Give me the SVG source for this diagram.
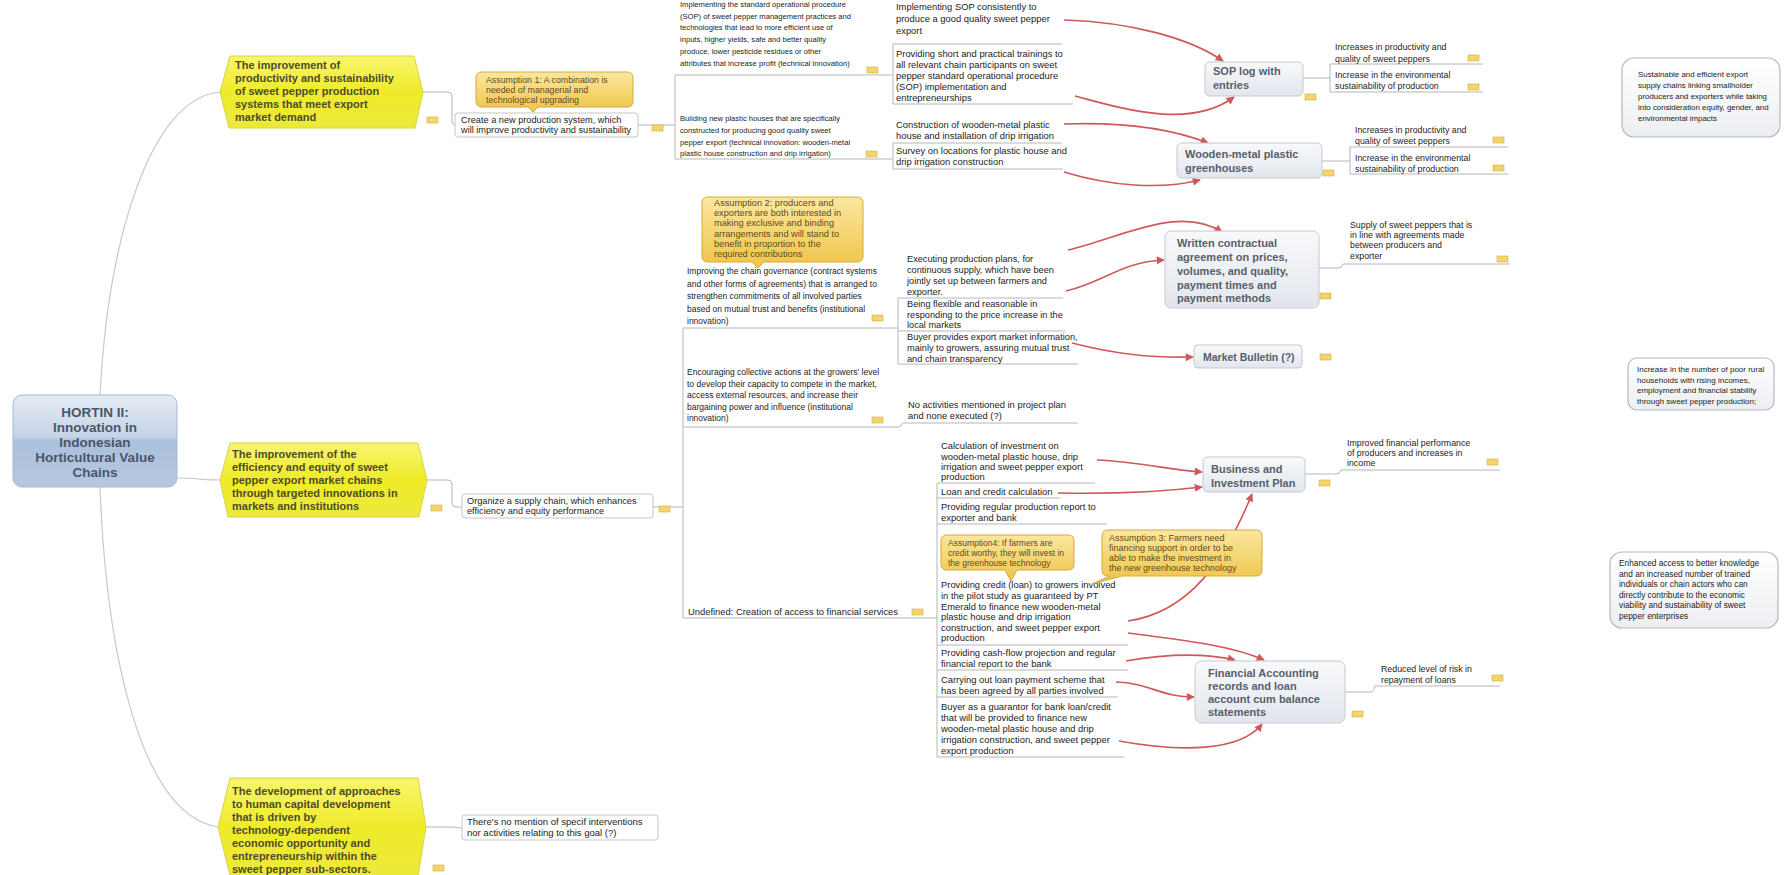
<svg xmlns="http://www.w3.org/2000/svg" width="1787" height="875" viewBox="0 0 1787 875">
<defs>
<linearGradient id="gy" x1="0" y1="0" x2="0" y2="1"><stop offset="0" stop-color="#f8f56e"/><stop offset="0.5" stop-color="#efeb2a"/><stop offset="1" stop-color="#ede93c"/></linearGradient>
<linearGradient id="gh" x1="0" y1="0" x2="0" y2="1"><stop offset="0" stop-color="#e4ebf5"/><stop offset="0.45" stop-color="#c6d4e7"/><stop offset="0.5" stop-color="#abc0dc"/><stop offset="1" stop-color="#b6c8e0"/></linearGradient>
<linearGradient id="gb" x1="0" y1="0" x2="0" y2="1"><stop offset="0" stop-color="#f8f9fb"/><stop offset="1" stop-color="#e2e6ec"/></linearGradient>
<linearGradient id="ga" x1="0" y1="0" x2="0" y2="1"><stop offset="0" stop-color="#fbe7a0"/><stop offset="1" stop-color="#efc446"/></linearGradient>
<linearGradient id="gr" x1="0" y1="0" x2="0" y2="1"><stop offset="0" stop-color="#ffffff"/><stop offset="1" stop-color="#eceef1"/></linearGradient>
<marker id="ah" viewBox="0 0 10 10" refX="9" refY="5" markerWidth="9" markerHeight="8" markerUnits="userSpaceOnUse" orient="auto"><path d="M0,0 L10,5 L0,10 Z" fill="#cf5858"/></marker>
</defs>
<style>
.c{fill:none;stroke:#b6b6b6;stroke-width:1}
.cr{fill:none;stroke:#c8c8c8;stroke-width:1.2}
.a{fill:none;stroke:#cf5858;stroke-width:1.6;marker-end:url(#ah)}
text{font-family:"Liberation Sans",Arial,sans-serif;fill:#1c1c1c}
.goal{fill:url(#gy);stroke:#d9d24a;stroke-width:1}
.gt{font-size:11px;font-weight:bold;fill:#4d4d28}
.box{fill:url(#gb);stroke:#c4c9d1;stroke-width:1}
.bt{font-size:11px;font-weight:bold;fill:#56606c}
.ass{fill:url(#ga);stroke:#d6a83c;stroke-width:1}
.at{fill:#5c4c1c}
.wb{fill:#ffffff;stroke:#c6c6c6;stroke-width:1}
.rb{fill:url(#gr);stroke:#b4b9c1;stroke-width:1.2}
.n{fill:#f3d56b;stroke:#cfae45;stroke-width:0.6}
.f76{font-size:7.6px}.f79{font-size:7.9px}.f8{font-size:8px}.f83{font-size:8.3px}.f85{font-size:8.5px}.f88{font-size:8.8px}.f9{font-size:9px}.f92{font-size:9.2px}.f94{font-size:9.4px}.f95{font-size:9.5px}
</style>
<rect width="1787" height="875" fill="#ffffff"/>

<g id="connectors">
<path class="cr" d="M100,395 C108,240 150,98 220,92"/>
<path class="cr" d="M177,478 C195,478 205,480 220,480"/>
<path class="cr" d="M100,487 C106,650 140,815 218,827"/>
<path class="c" d="M423,92 H448 Q452,92 452,96 V121 Q452,125 456,125"/>
<path class="c" d="M638,125 H675 M675,75 V159 M675,75 H892 M675,159 H892"/>
<path class="c" d="M893,44 V104 M893,44 H1062 M893,104 H1073"/>
<path class="c" d="M893,143 V169 M893,143 H1062 M893,169 H1063"/>
<path class="c" d="M1303,78 H1330 M1330,64 V92 M1330,64 H1483 M1330,92 H1483"/>
<path class="c" d="M1322,161 H1350 M1350,147 V174 M1350,147 H1508 M1350,174 H1508"/>
<path class="c" d="M427,480 H448 Q452,480 452,484 V503 Q452,507 456,507 H462"/>
<path class="c" d="M653,507 H683 M683,328 V618"/>
<path class="c" d="M683,328 H898 M898,298 V364 M898,298 H1063 M898,331 H1066 M898,364 H1078"/>
<path class="c" d="M683,427 H898 Q901,427 903,423 H1078"/>
<path class="c" d="M683,618 H937 M937,483 V757"/>
<path class="c" d="M937,483 H1095 M937,498 H1060 M937,524 H1107 M937,645 H1128 M937,670 H1128 M937,697 H1118 M937,757 H1124"/>
<path class="c" d="M1319,268 H1338 Q1342,268 1343,264 H1510"/>
<path class="c" d="M1305,474 H1336 Q1340,474 1341,470 H1500"/>
<path class="c" d="M1345,692 H1370 Q1374,692 1375,686 H1500"/>
<path class="c" d="M426,827 H452 Q457,827 460,828 H462"/>
<path class="a" d="M1064,20 C1130,22 1190,38 1223,61"/>
<path class="a" d="M1075,96 C1120,108 1190,130 1234,97"/>
<path class="a" d="M1064,124 C1120,122 1170,128 1208,143"/>
<path class="a" d="M1064,172 C1110,186 1160,190 1200,180"/>
<path class="a" d="M1068,250 C1125,236 1180,205 1222,232"/>
<path class="a" d="M1066,291 C1105,282 1120,262 1164,260"/>
<path class="a" d="M1072,343 C1115,354 1150,358 1193,357"/>
<path class="a" d="M1097,460 C1140,462 1170,470 1202,472"/>
<path class="a" d="M1058,493 C1110,494 1160,492 1202,487"/>
<path class="a" d="M1128,621 C1190,612 1225,560 1252,494"/>
<path class="a" d="M1128,633 C1180,640 1230,645 1264,660"/>
<path class="a" d="M1126,661 C1160,655 1200,652 1235,660"/>
<path class="a" d="M1116,682 C1150,683 1160,697 1194,697"/>
<path class="a" d="M1119,741 C1180,752 1240,752 1262,724"/>
</g>

<g id="root">
<rect x="13" y="395" width="164" height="92" rx="9" fill="url(#gh)" stroke="#a9b9cf"/>
<text text-anchor="middle" font-size="13.5" font-weight="bold" style="fill:#4a5668"><tspan x="95" y="417">HORTIN II:</tspan><tspan x="95" y="432">Innovation in</tspan><tspan x="95" y="447">Indonesian</tspan><tspan x="95" y="462">Horticultural Value</tspan><tspan x="95" y="477">Chains</tspan></text>
</g>

<g id="goal1">
<path class="goal" d="M230,56 H414 L423,92 L415,128 H229 L220,92 Z"/>
<text class="gt"><tspan x="235" y="69">The improvement of</tspan><tspan x="235" y="82">productivity and sustainability</tspan><tspan x="235" y="95">of sweet pepper production</tspan><tspan x="235" y="108">systems that meet export</tspan><tspan x="235" y="121">market demand</tspan></text>
<rect class="n" x="427" y="117" width="11" height="6"/>
</g>

<g id="goal2">
<path class="goal" d="M230,443 H418 L427,480 L419,517 H228 L220,480 Z"/>
<text class="gt"><tspan x="232" y="458">The improvement of the</tspan><tspan x="232" y="471">efficiency and equity of sweet</tspan><tspan x="232" y="484">pepper export market chains</tspan><tspan x="232" y="497">through targeted innovations in</tspan><tspan x="232" y="510">markets and institutions</tspan></text>
<rect class="n" x="431" y="505" width="11" height="6"/>
</g>

<g id="goal3">
<path class="goal" d="M230,778 H418 L426,827 L418,876 H230 L218,827 Z"/>
<text class="gt"><tspan x="232" y="795">The development of approaches</tspan><tspan x="232" y="808">to human capital development</tspan><tspan x="232" y="821">that is driven by</tspan><tspan x="232" y="834">technology-dependent</tspan><tspan x="232" y="847">economic opportunity and</tspan><tspan x="232" y="860">entrepreneurship within the</tspan><tspan x="232" y="873">sweet pepper sub-sectors.</tspan></text>
<rect class="n" x="433" y="865" width="11" height="6"/>
</g>

<g id="nomention">
<rect class="wb" x="462" y="815" width="196" height="25" rx="3"/>
<text class="f95"><tspan x="467" y="825">There's no mention of specif interventions</tspan><tspan x="467" y="835.5">nor activities relating to this goal (?)</tspan></text>
</g>

<g id="assumption1">
<path class="ass" d="M482,72 H627 Q633,72 633,78 V101 Q633,107 627,107 H538 L533,112 L528,107 H482 Q476,107 476,101 V78 Q476,72 482,72 Z"/>
<text class="at f88"><tspan x="486" y="83">Assumption 1: A combination is</tspan><tspan x="486" y="93">needed of managerial and</tspan><tspan x="486" y="103">technological upgrading</tspan></text>
</g>

<g id="create">
<rect class="wb" x="455" y="113" width="183" height="24" rx="3"/>
<text class="f92"><tspan x="461" y="122.5">Create a new production system, which</tspan><tspan x="461" y="133">will improve productivity and sustainability</tspan></text>
<rect class="n" x="652" y="125" width="11" height="6"/>
</g>

<g id="sop-standard">
<text class="f76"><tspan x="680" y="7">Implementing the standard operational procedure</tspan><tspan x="680" y="18.5">(SOP) of sweet pepper management practices and</tspan><tspan x="680" y="30">technologies that lead to more efficient use of</tspan><tspan x="680" y="42">inputs, higher yields, safe and better quality</tspan><tspan x="680" y="53.5">produce, lower pesticide residues or other</tspan><tspan x="680" y="66">attributes that increase profit (technical innovation)</tspan></text>
<rect class="n" x="867" y="67" width="11" height="6"/>
</g>

<g id="plastic-houses">
<text class="f76"><tspan x="680" y="121">Building new plastic houses that are specifically</tspan><tspan x="680" y="133">constructed for producing good quality sweet</tspan><tspan x="680" y="144.5">pepper export (technical innovation: wooden-metal</tspan><tspan x="680" y="156">plastic house construction and drip irrigation)</tspan></text>
<rect class="n" x="866" y="151" width="11" height="6"/>
</g>

<g id="act-sop-consistent">
<text class="f94"><tspan x="896" y="10">Implementing SOP consistently to</tspan><tspan x="896" y="22">produce a good quality sweet pepper</tspan><tspan x="896" y="34">export</tspan></text>
</g>
<g id="act-trainings">
<text class="f94"><tspan x="896" y="57">Providing short and practical trainings to</tspan><tspan x="896" y="68">all relevant chain participants on sweet</tspan><tspan x="896" y="79">pepper standard operational procedure</tspan><tspan x="896" y="90">(SOP) implementation and</tspan><tspan x="896" y="101">entrepreneurships</tspan></text>
</g>
<g id="act-construction">
<text class="f94"><tspan x="896" y="128">Construction of wooden-metal plastic</tspan><tspan x="896" y="139">house and installation of drip irrigation</tspan></text>
</g>
<g id="act-survey">
<text class="f94"><tspan x="896" y="154">Survey on locations for plastic house and</tspan><tspan x="896" y="165">drip irrigation construction</tspan></text>
</g>

<g id="sop-log">
<rect class="box" x="1205" y="62" width="98" height="34" rx="5"/>
<text class="bt"><tspan x="1213" y="75">SOP log with</tspan><tspan x="1213" y="89">entries</tspan></text>
<rect class="n" x="1305" y="94" width="11" height="6"/>
</g>
<g id="greenhouses">
<rect class="box" x="1177" y="143" width="145" height="35" rx="5"/>
<text class="bt"><tspan x="1185" y="158">Wooden-metal plastic</tspan><tspan x="1185" y="172">greenhouses</tspan></text>
<rect class="n" x="1323" y="170" width="11" height="6"/>
</g>

<g id="out-productivity-1">
<text class="f88"><tspan x="1335" y="50">Increases in productivity and</tspan><tspan x="1335" y="61.5">quality of sweet peppers</tspan></text>
<rect class="n" x="1468" y="55" width="11" height="6"/>
</g>
<g id="out-environment-1">
<text class="f88"><tspan x="1335" y="77.5">Increase in the environmental</tspan><tspan x="1335" y="89">sustainability of production</tspan></text>
<rect class="n" x="1468" y="84" width="11" height="6"/>
</g>
<g id="out-productivity-2">
<text class="f88"><tspan x="1355" y="132.5">Increases in productivity and</tspan><tspan x="1355" y="144">quality of sweet peppers</tspan></text>
<rect class="n" x="1493" y="137" width="11" height="6"/>
</g>
<g id="out-environment-2">
<text class="f88"><tspan x="1355" y="161">Increase in the environmental</tspan><tspan x="1355" y="171.5">sustainability of production</tspan></text>
<rect class="n" x="1493" y="165" width="11" height="6"/>
</g>

<g id="impact-1">
<rect class="rb" x="1622" y="58" width="158" height="79" rx="12"/>
<text class="f79"><tspan x="1638" y="77">Sustainable and efficient export</tspan><tspan x="1638" y="88">supply chains linking smallholder</tspan><tspan x="1638" y="99">producers and exporters while taking</tspan><tspan x="1638" y="110">into consideration equity, gender, and</tspan><tspan x="1638" y="121">environmental impacts</tspan></text>
</g>

<g id="organize">
<rect class="wb" x="462" y="494" width="191" height="24" rx="3"/>
<text class="f92"><tspan x="467" y="503.5">Organize a supply chain, which enhances</tspan><tspan x="467" y="514">efficiency and equity performance</tspan></text>
<rect class="n" x="659" y="506" width="11" height="6"/>
</g>

<g id="assumption2">
<path class="ass" d="M708,197 H857 Q863,197 863,203 V256 Q863,262 857,262 H764 L758,268 L752,262 H708 Q702,262 702,256 V203 Q702,197 708,197 Z"/>
<text class="at f92"><tspan x="714" y="206">Assumption 2: producers and</tspan><tspan x="714" y="216.2">exporters are both interested in</tspan><tspan x="714" y="226.4">making exclusive and binding</tspan><tspan x="714" y="236.6">arrangements and will stand to</tspan><tspan x="714" y="246.8">benefit in proportion to the</tspan><tspan x="714" y="257">required contributions</tspan></text>
</g>

<g id="governance">
<text class="f85"><tspan x="687" y="274">Improving the chain governance (contract systems</tspan><tspan x="687" y="286.5">and other forms of agreements) that is arranged to</tspan><tspan x="687" y="299">strengthen commitments of all involved parties</tspan><tspan x="687" y="311.5">based on mutual trust and benefits (institutional</tspan><tspan x="687" y="324">innovation)</tspan></text>
<rect class="n" x="872" y="315" width="11" height="6"/>
</g>
<g id="act-production-plans">
<text class="f92"><tspan x="907" y="262">Executing production plans, for</tspan><tspan x="907" y="273">continuous supply, which have been</tspan><tspan x="907" y="284">jointly set up between farmers and</tspan><tspan x="907" y="294.5">exporter.</tspan></text>
</g>
<g id="act-flexible">
<text class="f92"><tspan x="907" y="307">Being flexible and reasonable in</tspan><tspan x="907" y="318">responding to the price increase in the</tspan><tspan x="907" y="328">local markets</tspan></text>
</g>
<g id="act-market-info">
<text class="f92"><tspan x="907" y="340">Buyer provides export market information,</tspan><tspan x="907" y="351">mainly to growers, assuring mutual trust</tspan><tspan x="907" y="361.5">and chain transparency</tspan></text>
</g>

<g id="contract">
<rect class="box" x="1165" y="231" width="154" height="77" rx="6"/>
<text class="bt"><tspan x="1177" y="247">Written contractual</tspan><tspan x="1177" y="261">agreement on prices,</tspan><tspan x="1177" y="275">volumes, and quality,</tspan><tspan x="1177" y="289">payment times and</tspan><tspan x="1177" y="302">payment methods</tspan></text>
<rect class="n" x="1320" y="293" width="11" height="6"/>
</g>
<g id="out-supply">
<text class="f88"><tspan x="1350" y="228">Supply of sweet peppers that is</tspan><tspan x="1350" y="238">in line with agreements made</tspan><tspan x="1350" y="248">between producers and</tspan><tspan x="1350" y="258.5">exporter</tspan></text>
<rect class="n" x="1497" y="256" width="11" height="6"/>
</g>
<g id="market-bulletin">
<rect class="box" x="1194" y="345" width="108" height="23" rx="4"/>
<text class="bt" font-size="10.5" style="font-size:10.5px"><tspan x="1203" y="360.5">Market Bulletin (?)</tspan></text>
<rect class="n" x="1320" y="354" width="11" height="6"/>
</g>

<g id="impact-2">
<rect class="rb" x="1628" y="358" width="146" height="52" rx="9"/>
<text class="f8"><tspan x="1637" y="372">Increase in the number of poor rural</tspan><tspan x="1637" y="382.5">households with rising incomes,</tspan><tspan x="1637" y="393">employment and financial stability</tspan><tspan x="1637" y="403.5">through sweet pepper production;</tspan></text>
</g>

<g id="collective">
<text class="f85"><tspan x="687" y="375">Encouraging collective actions at the growers' level</tspan><tspan x="687" y="386.5">to develop their capacity to compete in the market,</tspan><tspan x="687" y="398">access external resources, and increase their</tspan><tspan x="687" y="409.5">bargaining power and influence (institutional</tspan><tspan x="687" y="421">innovation)</tspan></text>
<rect class="n" x="872" y="417" width="11" height="6"/>
</g>
<g id="no-activities">
<text class="f94"><tspan x="908" y="408">No activities mentioned in project plan</tspan><tspan x="908" y="419">and none executed (?)</tspan></text>
</g>

<g id="financial-services">
<text class="f94"><tspan x="688" y="615">Undefined: Creation of access to financial services</tspan></text>
<rect class="n" x="912" y="609" width="11" height="6"/>
</g>

<g id="act-calculation">
<text class="f94"><tspan x="941" y="449">Calculation of investment on</tspan><tspan x="941" y="459.5">wooden-metal plastic house, drip</tspan><tspan x="941" y="470">irrigation and sweet pepper export</tspan><tspan x="941" y="480">production</tspan></text>
</g>
<g id="act-loan">
<text class="f94"><tspan x="941" y="494.5">Loan and credit calculation</tspan></text>
</g>
<g id="act-report">
<text class="f94"><tspan x="941" y="510">Providing regular production report to</tspan><tspan x="941" y="521">exporter and bank</tspan></text>
</g>
<g id="act-credit">
<text class="f94"><tspan x="941" y="588">Providing credit (loan) to growers involved</tspan><tspan x="941" y="599">in the pilot study as guaranteed by PT</tspan><tspan x="941" y="609.5">Emerald to finance new wooden-metal</tspan><tspan x="941" y="620">plastic house and drip irrigation</tspan><tspan x="941" y="630.5">construction, and sweet pepper export</tspan><tspan x="941" y="641">production</tspan></text>
</g>
<g id="act-cashflow">
<text class="f94"><tspan x="941" y="656">Providing cash-flow projection and regular</tspan><tspan x="941" y="667">financial report to the bank</tspan></text>
</g>
<g id="act-repayment">
<text class="f94"><tspan x="941" y="683">Carrying out loan payment scheme that</tspan><tspan x="941" y="694">has been agreed by all parties involved</tspan></text>
</g>
<g id="act-guarantor">
<text class="f94"><tspan x="941" y="710">Buyer as a guarantor for bank loan/credit</tspan><tspan x="941" y="721">that will be provided to finance new</tspan><tspan x="941" y="732">wooden-metal plastic house and drip</tspan><tspan x="941" y="743">irrigation construction, and sweet pepper</tspan><tspan x="941" y="754">export production</tspan></text>
</g>

<g id="assumption4">
<path class="ass" d="M947,535 H1068 Q1074,535 1074,541 V564 Q1074,570 1068,570 H1017 L1011,581 L1005,570 H947 Q941,570 941,564 V541 Q941,535 947,535 Z"/>
<text class="at f85"><tspan x="948" y="546">Assumption4: If farmers are</tspan><tspan x="948" y="556">credit worthy, they will invest in</tspan><tspan x="948" y="566">the greenhouse technology</tspan></text>
</g>
<g id="assumption3">
<path class="ass" d="M1108,530 H1256 Q1262,530 1262,536 V570 Q1262,576 1256,576 H1122 L1092,584 L1110,576 H1108 Q1102,576 1102,570 V536 Q1102,530 1108,530 Z"/>
<text class="at f9"><tspan x="1109" y="541">Assumption 3: Farmers need</tspan><tspan x="1109" y="551">financing support in order to be</tspan><tspan x="1109" y="561">able to make the investment in</tspan><tspan x="1109" y="571">the new greenhouse technology</tspan></text>
</g>

<g id="business-plan">
<rect class="box" x="1203" y="457" width="102" height="35" rx="5"/>
<text class="bt"><tspan x="1211" y="473">Business and</tspan><tspan x="1211" y="487">Investment Plan</tspan></text>
<rect class="n" x="1319" y="480" width="11" height="6"/>
</g>
<g id="out-financial">
<text class="f88"><tspan x="1347" y="446">Improved financial performance</tspan><tspan x="1347" y="456">of producers and increases in</tspan><tspan x="1347" y="466">income</tspan></text>
<rect class="n" x="1487" y="459" width="11" height="6"/>
</g>
<g id="accounting">
<rect class="box" x="1195" y="661" width="150" height="62" rx="7"/>
<text class="bt"><tspan x="1208" y="677">Financial Accounting</tspan><tspan x="1208" y="690">records and loan</tspan><tspan x="1208" y="703">account cum balance</tspan><tspan x="1208" y="716">statements</tspan></text>
<rect class="n" x="1352" y="711" width="11" height="6"/>
</g>
<g id="out-risk">
<text class="f88"><tspan x="1381" y="672">Reduced level of risk in</tspan><tspan x="1381" y="683">repayment of loans</tspan></text>
<rect class="n" x="1492" y="675" width="11" height="6"/>
</g>

<g id="impact-3">
<rect class="rb" x="1610" y="552" width="168" height="76" rx="12"/>
<text class="f83"><tspan x="1619" y="566">Enhanced access to better knowledge</tspan><tspan x="1619" y="576.5">and an increased number of trained</tspan><tspan x="1619" y="587">individuals or chain actors who can</tspan><tspan x="1619" y="597.5">directly contribute to the economic</tspan><tspan x="1619" y="608">viability and sustainability of sweet</tspan><tspan x="1619" y="618.5">pepper enterprises</tspan></text>
</g>
</svg>
